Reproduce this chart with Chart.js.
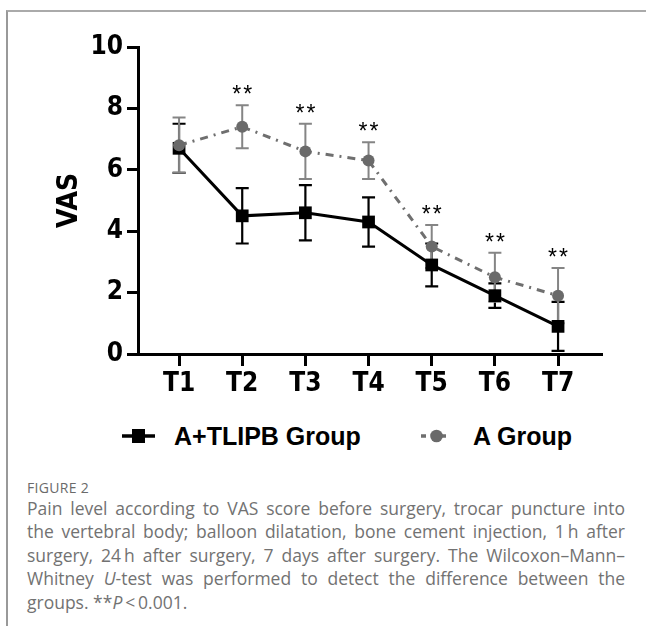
<!DOCTYPE html>
<html>
<head>
<meta charset="utf-8">
<script src="https://cdn.jsdelivr.net/npm/chart.js@4.4.1/dist/chart.umd.min.js"></script>
<style>
  body{margin:0;background:#fff;width:646px;height:626px;overflow:hidden;position:relative;}
  #frame{position:absolute;left:6px;top:10px;right:-10px;bottom:-10px;border-top:2px solid #aaa;border-left:2px solid #999;}
  #chartBox{position:absolute;left:0;top:0;width:646px;height:410px;}
  #legend{position:absolute;left:0;top:420px;width:646px;height:32px;font:bold 25px "Liberation Sans",Arial,sans-serif;color:#000;}
  .lg-item{position:absolute;top:0;height:32px;display:flex;align-items:center;white-space:nowrap;}
  .lg-item canvas{display:block;}
  #caption{position:absolute;left:27px;top:479px;width:598px;font-family:"Open Sans",Lato,sans-serif;color:#727272;}
  #figLabel{font-size:14px;line-height:18px;height:18px;letter-spacing:0.3px;color:#6a6a6a;}
  .cl{font-size:17.5px;line-height:23.4px;height:23.4px;white-space:nowrap;}
</style>
</head>
<body>
<div id="frame"></div>
<div id="chartBox"><canvas id="vasChart" width="646" height="410"></canvas></div>
<div id="legend"></div>
<div id="caption">
  <div id="figLabel">FIGURE 2</div>
  <div class="cl j"><span>Pain level according to VAS score before surgery, trocar puncture into</span></div>
  <div class="cl j"><span>the vertebral body; balloon dilatation, bone cement injection, 1&#8201;h after</span></div>
  <div class="cl j"><span>surgery, 24&#8201;h after surgery, 7 days after surgery. The Wilcoxon–Mann–</span></div>
  <div class="cl j"><span>Whitney <i>U</i>-test was performed to detect the difference between the</span></div>
  <div class="cl"><span>groups. **<i>P</i>&#8201;&lt;&#8201;0.001.</span></div>
</div>
<script>
// time points
const labels = ['T1','T2','T3','T4','T5','T6','T7'];
// A+TLIPB group, mean and SD
const tlipbMean = [6.7, 4.5, 4.6, 4.3, 2.9, 1.9, 0.9];
const tlipbSD   = [0.8, 0.9, 0.9, 0.8, 0.7, 0.4, 0.8];
// A group, mean and SD
const aMean = [6.8, 7.4, 6.6, 6.3, 3.5, 2.5, 1.9];
const aSD   = [0.9, 0.7, 0.9, 0.6, 0.7, 0.8, 0.9];
// significance marks (A group vs A+TLIPB)
const sig = ['', '**', '**', '**', '**', '**', '**'];
const yTicks = [0, 2, 4, 6, 8, 10];

const narrow = "'Liberation Sans Narrow','DejaVu Sans Condensed',sans-serif";
const toPts = arr => arr.map((v,i)=>({x:i+1, y:v}));

// error bars + asterisks
const errBars = {
  id:'errBars',
  beforeDatasetsDraw(chart){
    const {ctx, scales:{x, y}} = chart;
    chart.data.datasets.forEach(ds=>{
      ctx.save();
      ctx.strokeStyle = ds.errColor; ctx.lineWidth = ds.errWidth;
      ds.data.forEach((p,i)=>{
        const px = x.getPixelForValue(p.x);
        const hi = y.getPixelForValue(p.y + ds.sd[i]);
        const lo = y.getPixelForValue(p.y - ds.sd[i]);
        ctx.beginPath();
        ctx.moveTo(px, hi); ctx.lineTo(px, lo);
        ctx.moveTo(px-6.5, hi); ctx.lineTo(px+6.5, hi);
        ctx.moveTo(px-6.5, lo); ctx.lineTo(px+6.5, lo);
        ctx.stroke();
      });
      ctx.restore();
    });
  },
  afterDatasetsDraw(chart){
    const {ctx, scales:{x, y}} = chart;
    ctx.save();
    ctx.fillStyle = '#000';
    ctx.font = '23px "Liberation Sans",Arial,sans-serif';
    ctx.textAlign = 'center'; ctx.textBaseline = 'alphabetic';
    ctx.letterSpacing = '2px';
    sig.forEach((s,i)=>{
      if(!s) return;
      const top = Math.max(aMean[i]+aSD[i], tlipbMean[i]+tlipbSD[i]);
      ctx.fillText(s, x.getPixelForValue(i+1)+1, y.getPixelForValue(top) - 3);
    });
    ctx.restore();
  }
};

const chart = new Chart(document.getElementById('vasChart').getContext('2d'), {
  type:'line',
  data:{
    datasets:[
      {label:'A+TLIPB Group', data:toPts(tlipbMean), sd:tlipbSD, order:1,
       borderColor:'#000', backgroundColor:'#000', borderWidth:3,
       pointStyle:'rect', pointRadius:9, pointBorderWidth:0,
       errColor:'#000', errWidth:2.2},
      {label:'A Group', data:toPts(aMean), sd:aSD, order:0,
       borderColor:'#6f6f6f', backgroundColor:'#6a6a6a', borderWidth:3, borderDash:[8,6,2,6],
       pointStyle:'circle', pointRadius:6, pointBorderWidth:0,
       errColor:'#858585', errWidth:2}
    ]
  },
  options:{
    responsive:false, animation:false,
    layout:{padding:{top:47, left:40, right:45, bottom:6}},
    plugins:{legend:{display:false}, tooltip:{enabled:false}},
    scales:{
      x:{type:'linear', min:0.35, max:7.68,
        afterBuildTicks: s => { s.ticks = labels.map((_,i)=>({value:i+1})); },
        afterFit: s => { s.height = 50; },
        ticks:{callback: v => labels[v-1], color:'#000', padding:3, autoSkip:false, maxRotation:0,
               font:{family:narrow, size:26, weight:'bold'}},
        grid:{drawOnChartArea:false, tickLength:12, lineWidth:3, color:'#000'},
        border:{width:3, color:'#000'}
      },
      y:{min:0, max:10,
        afterBuildTicks: s => { s.ticks = yTicks.map(v=>({value:v})); },
        afterFit: s => { s.width = 98; },
        ticks:{color:'#000', padding:4, font:{family:narrow, size:26, weight:'bold'}},
        grid:{drawOnChartArea:false, tickLength:11, lineWidth:3, color:'#000'},
        border:{width:3, color:'#000'},
        title:{display:true, text:'VAS', color:'#000', padding:{top:13, bottom:0},
               font:{family:narrow, size:28, weight:'bold'}}
      }
    }
  },
  plugins:[errBars]
});

// legend built from the datasets
function markerCanvas(ds, w){
  const c = document.createElement('canvas'); c.width = w; c.height = 20;
  const g = c.getContext('2d'); const cy = 10;
  g.strokeStyle = ds.borderColor; g.lineWidth = 3.5;
  if(ds.pointStyle === 'rect'){
    g.beginPath(); g.moveTo(0,cy); g.lineTo(w,cy); g.stroke();
    g.fillStyle = ds.backgroundColor; g.fillRect(w/2-6.5, cy-7, 13, 14);
  } else {
    g.beginPath(); g.moveTo(0,cy); g.lineTo(5,cy); g.moveTo(21,cy); g.lineTo(25,cy); g.stroke();
    g.fillStyle = ds.backgroundColor; g.beginPath(); g.arc(15.5, cy, 6.3, 0, Math.PI*2); g.fill();
  }
  return c;
}
const lgPos = [{left:122, w:33, gap:19}, {left:421, w:26, gap:26}];
const lg = document.getElementById('legend');
chart.data.datasets.forEach((ds,i)=>{
  const it = document.createElement('div'); it.className = 'lg-item';
  it.style.left = lgPos[i].left + 'px';
  const m = markerCanvas(ds, lgPos[i].w); m.style.marginRight = lgPos[i].gap + 'px';
  it.appendChild(m);
  const t = document.createElement('span'); t.textContent = ds.label; it.appendChild(t);
  lg.appendChild(it);
});

// justify caption lines: spread spaces so each line fills the width
document.querySelectorAll('#caption .cl.j span').forEach(sp=>{
  const full = 598, w = sp.getBoundingClientRect().width;
  const gaps = (sp.textContent.match(/ /g) || []).length;
  if(gaps) sp.style.wordSpacing = ((full - w) / gaps) + 'px';
});
</script>
</body>
</html>
